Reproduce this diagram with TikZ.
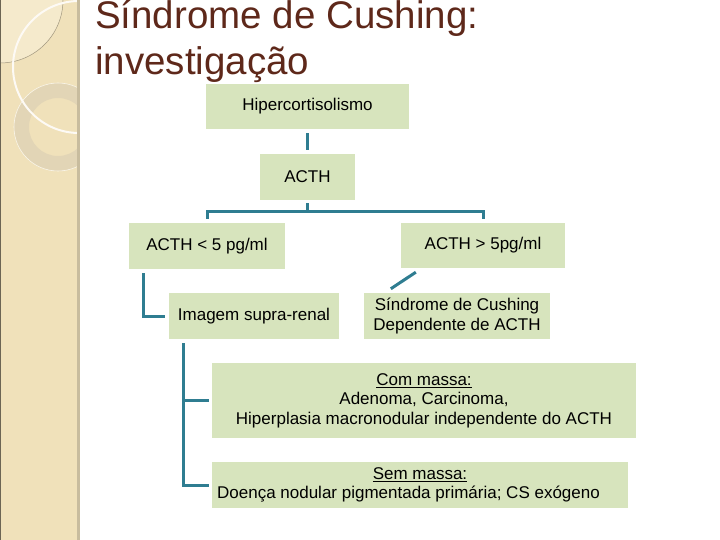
\documentclass[tikz,border=0pt]{standalone}
\usepackage{fontspec}
\setmainfont{Liberation Sans}
\definecolor{boxfill}{RGB}{215,228,189}
\definecolor{conncol}{RGB}{47,125,145}
\definecolor{titlecol}{RGB}{94,40,26}
\definecolor{stripcol}{RGB}{240,225,186}
\definecolor{striplight}{RGB}{245,234,204}
\definecolor{stripedge}{RGB}{200,188,158}
\definecolor{ringcol}{RGB}{226,213,182}
\tikzset{
  gbox/.style={rectangle, fill=boxfill, inner sep=0pt, align=center,
    font=\fontsize{17}{19.5}\selectfont},
  conn/.style={draw=conncol, line width=3pt},
  titletext/.style={anchor=base west, inner sep=0pt, text=titlecol,
    font=\fontsize{38.5}{46}\selectfont}
}
\begin{document}
\begin{tikzpicture}[x=1pt,y=-1pt]
\useasboundingbox (0,0) rectangle (720,540);
% left decorative strip
\fill[stripcol] (0,0) rectangle (78,540);
\begin{scope}
  \clip (0,0) rectangle (78,540);
  \fill[striplight] (0,0) circle (63);
  \draw[stripedge!80!black, line width=0.5pt] (0,0) circle (63);
  \fill[ringcol, even odd rule] (58,127) circle (44) (58,127) circle (29);
  \draw[white!70!stripcol, line width=0.6pt] (58,127) circle (44);
  \draw[white!85!stripcol, line width=2pt] (79,67) circle (66);
\end{scope}
\fill[stripedge] (77,0) rectangle (80,540);
\draw[black!55!stripcol, line width=1.2pt] (0.6,0) -- (0.6,540);
% title
\node[titletext] (t1) at (95,29) {Síndrome de Cushing:};
\node[titletext] (t2) at (95,75) {investigação};
% boxes
\node[gbox, minimum width=203, minimum height=45] (hip) at (307.5,106.5) {Hipercortisolismo};
\node[gbox, minimum width=95, minimum height=46] (acth) at (307.5,177) {ACTH};
\node[gbox, minimum width=156, minimum height=46] (lo) at (207,246) {ACTH < 5 pg/ml};
\node[gbox, minimum width=164, minimum height=45] (hi) at (483,245.5) {ACTH > 5pg/ml};
\node[gbox, minimum width=170, minimum height=46] (img) at (254,316) {Imagem supra-renal};
\node[gbox, minimum width=186, minimum height=46] (sind) at (457,316) {Síndrome de Cushing\\Dependente de ACTH};
\node[gbox, minimum width=424, minimum height=75] (com) at (424,400.5) {\underline{Com massa:}\\Adenoma, Carcinoma,\\ Hiperplasia macronodular independente do ACTH};
\node[gbox, minimum width=416, minimum height=46] (sem) at (420,485) {\underline{Sem massa:}\\\hspace*{-23pt}Doença nodular pigmentada primária; CS exógeno};
% connectors
\draw[conn, shorten <=4pt, shorten >=4pt] (hip.south) -- (acth.north);
\draw[conn, shorten <=3pt, shorten >=4pt] (acth.south) -- ++(0,11) -| (lo.north);
\draw[conn, shorten <=3pt, shorten >=4pt] (acth.south) -- ++(0,11) -| (hi.north);
\draw[conn, shorten <=4pt, shorten >=4pt] ([xshift=15pt]lo.south west) |- (img.west);
\draw[conn, shorten <=4pt, shorten >=3pt] ([xshift=15pt]img.south west) |- (com.west);
\draw[conn, shorten <=4pt, shorten >=3pt] ([xshift=15pt]img.south west) |- (sem.west);
\draw[conn] ([xshift=15pt,yshift=-4pt]hi.south west) -- ([xshift=27pt,yshift=4pt]sind.north west);
\end{tikzpicture}
\end{document}
